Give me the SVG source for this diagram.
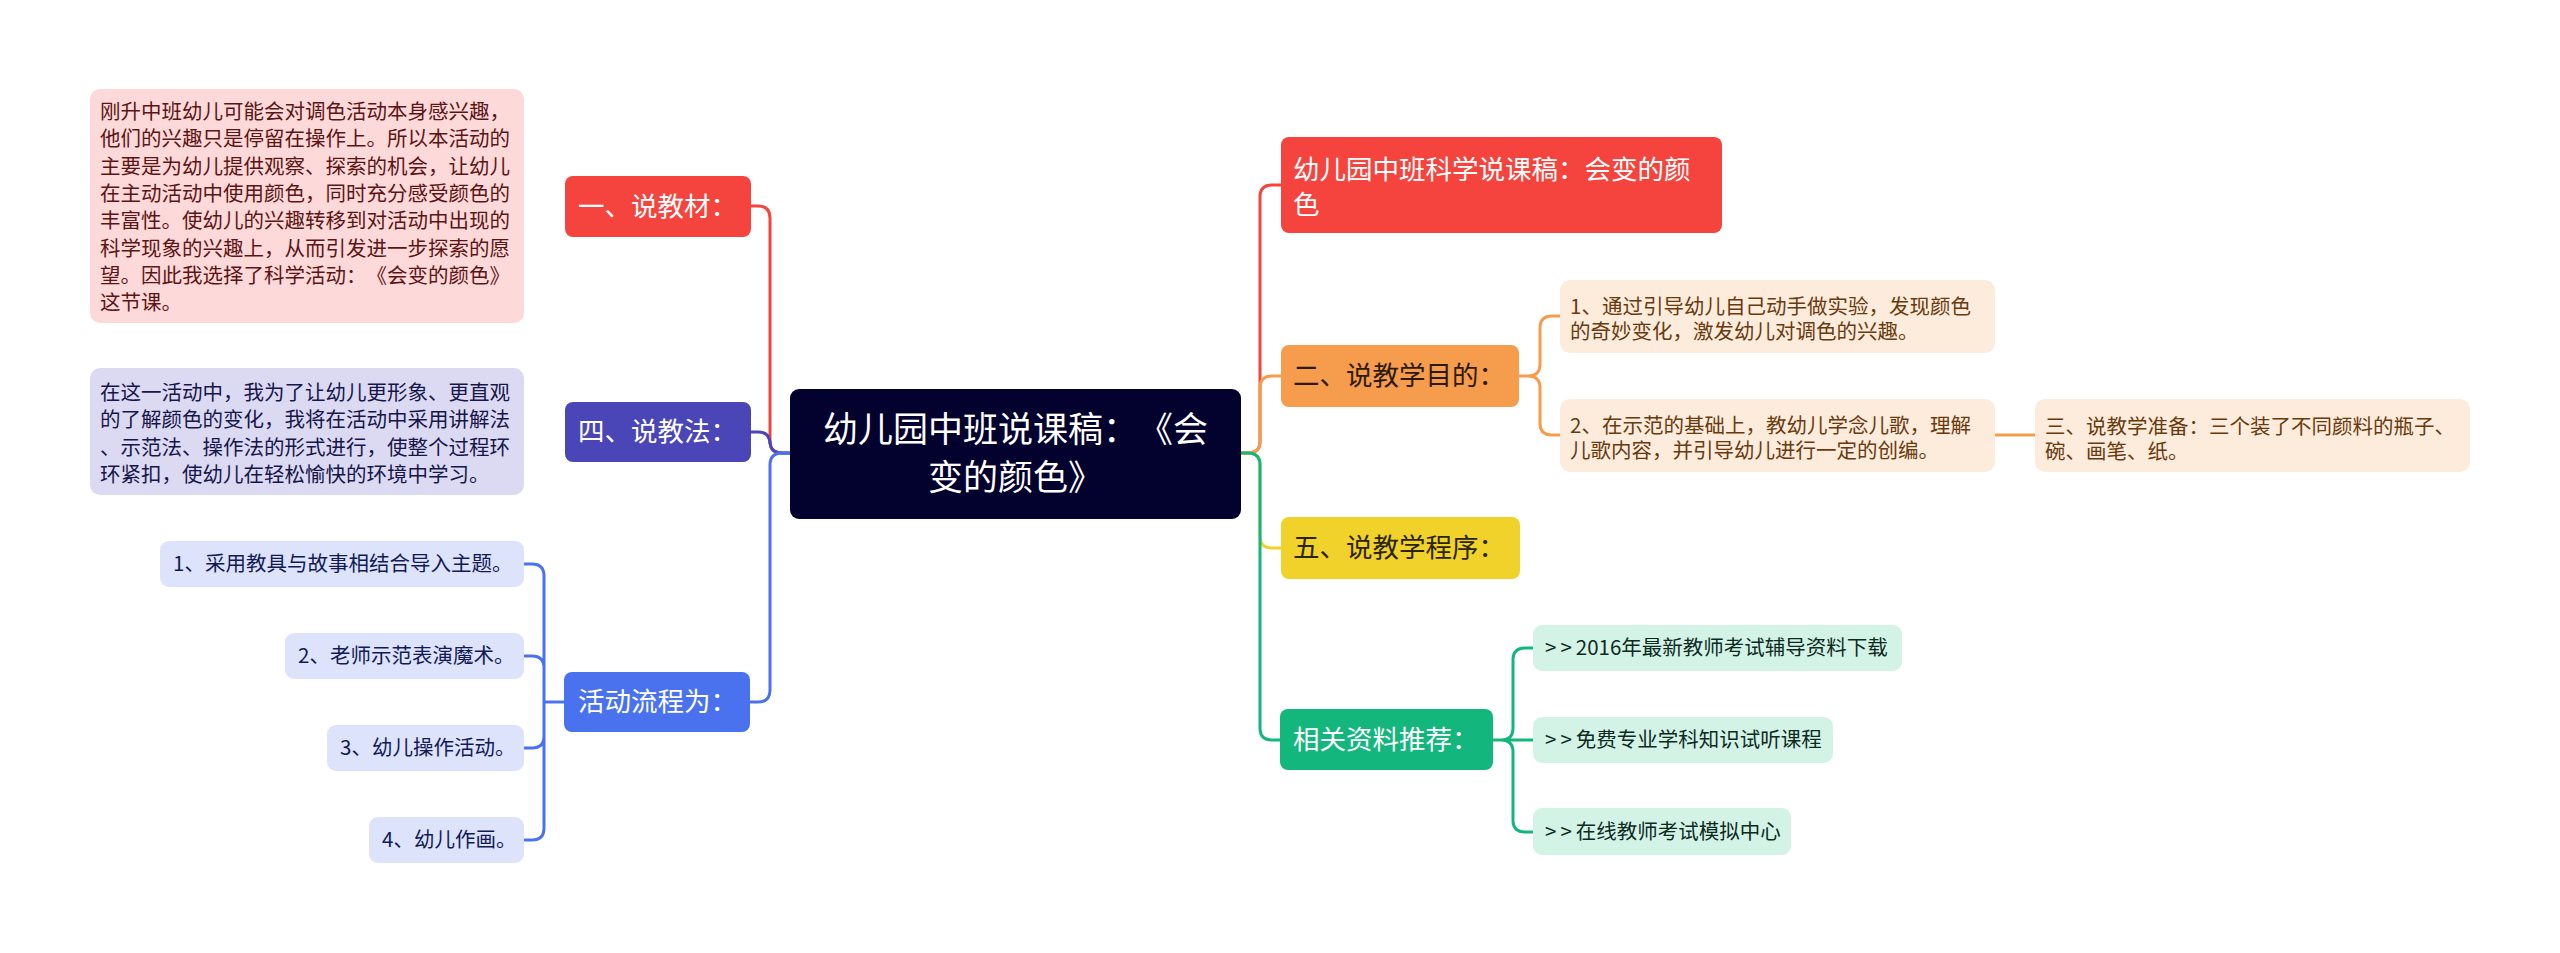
<svg xmlns="http://www.w3.org/2000/svg" width="2560" height="953" viewBox="0 0 2560 953">
<style>
text{font-family:"Noto Sans CJK SC","Noto Sans",sans-serif;text-spacing-trim:space-all;}
.c{fill:none;stroke-width:3;stroke-linecap:round;}
.t20{font-size:20.5px;}
.t26{font-size:26.5px;}
.w{fill:#ffffff;}
.gt{letter-spacing:4px;}
</style>
<rect width="2560" height="953" fill="#ffffff"/>
<g id="connectors">
<path class="c" stroke="#f5443e" d="M751,206 H758 Q770,206 770,218 V441 Q770,453 782,453 H790"/>
<path class="c" stroke="#4b46b8" d="M751,432 H758 Q770,432 770,444 V441 Q770,453 782,453 H790"/>
<path class="c" stroke="#4a72ef" d="M750,702 H758 Q770,702 770,690 V465 Q770,453 782,453 H790"/>
<path class="c" stroke="#4a72ef" d="M564,702 H544 M524,564 H532 Q544,564 544,576 V828 Q544,840 532,840 H524 M524,656 H532 Q544,656 544,668 V736 Q544,748 532,748 H524"/>
<path class="c" stroke="#f5443e" d="M1241,453 H1248 Q1260,453 1260,441 V197 Q1260,185 1272,185 H1281"/>
<path class="c" stroke="#f69c4d" d="M1241,453 H1248 Q1260,453 1260,441 V388 Q1260,376 1272,376 H1281"/>
<path class="c" stroke="#f0d22a" d="M1241,453 H1248 Q1260,453 1260,465 V536 Q1260,548 1272,548 H1281"/>
<path class="c" stroke="#13b77d" d="M1241,453 H1248 Q1260,453 1260,465 V728 Q1260,740 1272,740 H1280"/>
<path class="c" stroke="#f69c4d" d="M1519,376 H1528 Q1540,376 1540,364 V328 Q1540,316 1552,316 H1560 M1528,376 Q1540,376 1540,388 V423 Q1540,435 1552,435 H1560 M1995,435 H2035"/>
<path class="c" stroke="#13b77d" d="M1493,740 H1533 M1501,740 Q1513,740 1513,728 V660 Q1513,648 1525,648 H1533 M1501,740 Q1513,740 1513,752 V820 Q1513,832 1525,832 H1533"/>
</g>
<g id="root">
<rect x="790" y="389" width="451" height="130" rx="9" fill="#03012e"/>
<text x="1015.5" y="442" text-anchor="middle" font-size="35" class="w">幼儿园中班说课稿：《会</text>
<text x="1015.5" y="490" text-anchor="middle" font-size="35" class="w">变的颜色》</text>
</g>
<g id="n-jiaocai">
<rect x="565" y="176" width="186" height="61" rx="8" fill="#f5443e"/>
<text x="578" y="216" class="t26 w">一、说教材：</text>
</g>
<g id="n-jiaocai-detail">
<rect x="90" y="89" width="434" height="234" rx="10" fill="#fdd9d9"/>
<g class="t20" fill="#5c1414">
<text x="100" y="119">刚升中班幼儿可能会对调色活动本身感兴趣，</text>
<text x="100" y="146.3">他们的兴趣只是停留在操作上。所以本活动的</text>
<text x="100" y="173.6">主要是为幼儿提供观察、探索的机会，让幼儿</text>
<text x="100" y="200.9">在主动活动中使用颜色，同时充分感受颜色的</text>
<text x="100" y="228.2">丰富性。使幼儿的兴趣转移到对活动中出现的</text>
<text x="100" y="255.5">科学现象的兴趣上，从而引发进一步探索的愿</text>
<text x="100" y="282.8">望。因此我选择了科学活动：《会变的颜色》</text>
<text x="100" y="310.1">这节课。</text>
</g>
</g>
<g id="n-jiaofa">
<rect x="565" y="402" width="186" height="60" rx="8" fill="#4b46b8"/>
<text x="578" y="441" class="t26 w">四、说教法：</text>
</g>
<g id="n-jiaofa-detail">
<rect x="90" y="368" width="434" height="127" rx="10" fill="#dcdaf3"/>
<g class="t20" fill="#16164a">
<text x="100" y="400">在这一活动中，我为了让幼儿更形象、更直观</text>
<text x="100" y="427.3">的了解颜色的变化，我将在活动中采用讲解法</text>
<text x="100" y="454.6">、示范法、操作法的形式进行，使整个过程环</text>
<text x="100" y="481.9">环紧扣，使幼儿在轻松愉快的环境中学习。</text>
</g>
</g>
<g id="n-liucheng">
<rect x="564" y="672" width="186" height="60" rx="8" fill="#4a72ef"/>
<text x="578" y="711" class="t26 w">活动流程为：</text>
</g>
<g id="n-lc1">
<rect x="160" y="541" width="364" height="46" rx="9" fill="#dce3fb"/>
<text x="173" y="571" class="t20" fill="#111a55">1、采用教具与故事相结合导入主题。</text>
</g>
<g id="n-lc2">
<rect x="285" y="633" width="239" height="46" rx="9" fill="#dce3fb"/>
<text x="298" y="663" class="t20" fill="#111a55">2、老师示范表演魔术。</text>
</g>
<g id="n-lc3">
<rect x="327" y="725" width="197" height="46" rx="9" fill="#dce3fb"/>
<text x="340" y="755" class="t20" fill="#111a55">3、幼儿操作活动。</text>
</g>
<g id="n-lc4">
<rect x="369" y="817" width="155" height="46" rx="9" fill="#dce3fb"/>
<text x="382" y="847" class="t20" fill="#111a55">4、幼儿作画。</text>
</g>
<g id="n-title">
<rect x="1281" y="137" width="441" height="96" rx="8" fill="#f5443e"/>
<text x="1293" y="179" class="t26 w">幼儿园中班科学说课稿：会变的颜</text>
<text x="1293" y="214" class="t26 w">色</text>
</g>
<g id="n-mudi">
<rect x="1281" y="345" width="238" height="62" rx="8" fill="#f69c4d"/>
<text x="1293" y="385" class="t26" fill="#2e1a04">二、说教学目的：</text>
</g>
<g id="n-md1">
<rect x="1560" y="280" width="435" height="73" rx="10" fill="#fdebdc"/>
<text x="1570" y="314" class="t20" fill="#683a0e">1、通过引导幼儿自己动手做实验，发现颜色</text>
<text x="1570" y="339" class="t20" fill="#683a0e">的奇妙变化，激发幼儿对调色的兴趣。</text>
</g>
<g id="n-md2">
<rect x="1560" y="399" width="435" height="73" rx="10" fill="#fdebdc"/>
<text x="1570" y="433" class="t20" fill="#683a0e">2、在示范的基础上，教幼儿学念儿歌，理解</text>
<text x="1570" y="458" class="t20" fill="#683a0e">儿歌内容，并引导幼儿进行一定的创编。</text>
</g>
<g id="n-zhunbei">
<rect x="2035" y="399" width="435" height="73" rx="10" fill="#fdebdc"/>
<text x="2045" y="434" class="t20" fill="#683a0e">三、说教学准备：三个装了不同颜料的瓶子、</text>
<text x="2045" y="459" class="t20" fill="#683a0e">碗、画笔、纸。</text>
</g>
<g id="n-chengxu">
<rect x="1281" y="517" width="239" height="62" rx="8" fill="#f0d22a"/>
<text x="1293" y="557" class="t26" fill="#2b2400">五、说教学程序：</text>
</g>
<g id="n-ziliao">
<rect x="1280" y="709" width="213" height="61" rx="8" fill="#13b77d"/>
<text x="1293" y="749" class="t26 w">相关资料推荐：</text>
</g>
<g id="n-zl1">
<rect x="1533" y="625" width="369" height="46" rx="9" fill="#d3f3e6"/>
<text x="1545" y="655" class="t20" fill="#0d2a1f"><tspan class="gt">&gt;&gt;</tspan>2016年最新教师考试辅导资料下载</text>
</g>
<g id="n-zl2">
<rect x="1533" y="717" width="300" height="46" rx="9" fill="#d3f3e6"/>
<text x="1545" y="747" class="t20" fill="#0d2a1f"><tspan class="gt">&gt;&gt;</tspan>免费专业学科知识试听课程</text>
</g>
<g id="n-zl3">
<rect x="1533" y="808" width="258" height="47" rx="9" fill="#d3f3e6"/>
<text x="1545" y="839" class="t20" fill="#0d2a1f"><tspan class="gt">&gt;&gt;</tspan>在线教师考试模拟中心</text>
</g>
</svg>
